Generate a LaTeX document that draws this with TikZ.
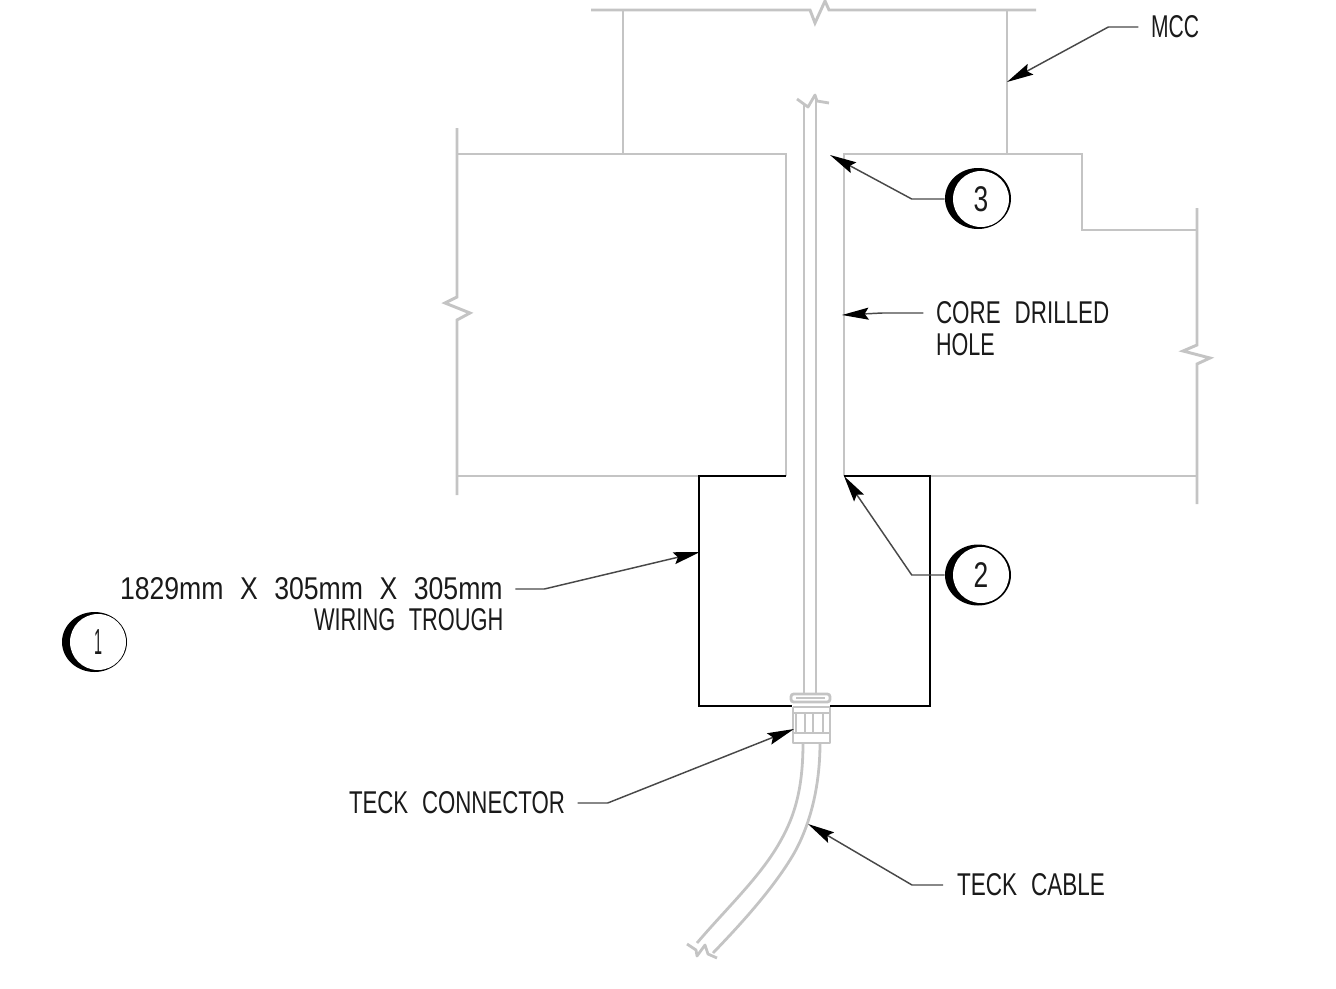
\documentclass[tikz,border=0pt]{standalone}
\usepackage{fontspec}
\setmainfont{Liberation Sans}
\usetikzlibrary{arrows.meta}
\definecolor{wallgray}{HTML}{C4C4C4}
\definecolor{inkk}{HTML}{1A1A1A}
\newcommand{\lbl}[2]{\resizebox{#1pt}{16.5pt}{\spaceskip=0.62em #2}}
\tikzset{
  wall/.style={draw=wallgray,line width=2.2pt,line join=miter},
  thinwall/.style={draw=wallgray,line width=2.1pt,line join=round},
  trough/.style={draw=black,line width=1.4pt},
  leader/.style={draw=inkk!80!white,line width=1.1pt,-{Stealth[length=20pt,width=9pt,inset=3pt,black]}},
  lab/.style={inner sep=0pt,outer sep=0pt,anchor=west,text=inkk},
  bub/.style={circle,fill=white,draw=none,inner sep=0pt,minimum size=42pt,text=inkk}
}
\begin{document}
\begin{tikzpicture}[x=0.75pt,y=-0.75pt]
\useasboundingbox (0,0) rectangle (1336,989);
% top wall of MCC
\draw[wall] (591,10) -- (810,10) -- (815,23) -- (825,1) -- (829,10) -- (1036,10);
\draw[wall] (623,10) -- (623,154);
\draw[wall] (1007,10) -- (1007,154);
% left block
\draw[wall] (457,128) -- (457,297) -- (445,303) -- (470,313) -- (457,320) -- (457,495);
\draw[wall] (457,154) -- (786,154) -- (786,476);
\draw[wall] (457,476) -- (699,476);
% right block
\draw[wall] (844,476) -- (844,154) -- (1082,154) -- (1082,230) -- (1197,230);
\draw[wall] (1197,208) -- (1197,345) -- (1183,351) -- (1210,358) -- (1197,364) -- (1197,504);
\draw[wall] (930,476) -- (1197,476);
% trough
\draw[trough] (786,476) -- (699,476) -- (699,706) -- (792,706);
\draw[trough] (844,476) -- (930,476) -- (930,706) -- (830,706);
% cable in trough
\draw[thinwall] (804,103) -- (804,694);
\draw[thinwall] (816,100) -- (816,694);
\draw[thinwall] (797,99) -- (808,107) -- (815,95) -- (817,101) -- (829,103);
% connector
\draw[thinwall,rounded corners=2pt] (791,694) rectangle (830,702);
\draw[thinwall] (796,698) -- (825,698);
\draw[thinwall] (793,707) -- (830,707);
\draw[thinwall] (793,707) -- (793,743) -- (830,743) -- (830,707);
\draw[thinwall] (796,713) -- (796,733);
\draw[thinwall] (805,713) -- (805,733);
\draw[thinwall] (813,713) -- (813,733);
\draw[thinwall] (823,713) -- (823,733);
\draw[thinwall] (793,713) -- (830,713);
\draw[thinwall] (793,733) -- (830,733);
% cable outside
\draw[thinwall] (803,743) .. controls (803,795) and (792,822) .. (777,847) .. controls (757,880) and (725,910) .. (697,943);
\draw[thinwall] (820,743) .. controls (820,795) and (806,835) .. (790,860) .. controls (770,892) and (740,925) .. (713,953);
\draw[thinwall] (687,944) -- (696,950) -- (697,956) -- (705,945) -- (708,954) -- (717,958);
% labels
\node[lab] (mcc) at (1151,27) {\lbl{36}{MCC}};
\node[lab] (core) at (936,313) {\lbl{130}{CORE DRILLED}};
\node[lab] (hole) at (936,345) {\lbl{44}{HOLE}};
\node[lab] (size) at (120,589) {\lbl{287}{1829mm X 305mm X 305mm}};
\node[lab] (wiring) at (314,620) {\lbl{142}{WIRING TROUGH}};
\node[lab] (tconn) at (349,803) {\lbl{162}{TECK CONNECTOR}};
\node[lab] (tcable) at (957,885) {\lbl{111}{TECK CABLE}};
% balloons
\fill[black] (978,198.5) ellipse [x radius=33,y radius=30.5];
\node[bub] (b3) at (981,199) {\resizebox{11pt}{18.7pt}{3}};
\fill[black] (978,575) ellipse [x radius=33,y radius=30.5];
\node[bub] (b2) at (981,575) {\resizebox{11pt}{18.7pt}{2}};
\fill[black] (94.5,642) ellipse [x radius=32.5,y radius=30];
\node[bub] (b1) at (98,642) {\resizebox{6pt}{18.7pt}{1}};
% leader tips
\coordinate (tipmcc) at (1007,82);
\coordinate (tip3) at (830,155);
\coordinate (tip2) at (844,476);
\coordinate (tipcore) at (842,315);
\coordinate (tipw) at (700,552);
\coordinate (tipconn) at (794,729);
\coordinate (tipcable) at (808,824);
\draw[leader] ([xshift=-9.5pt]mcc.west) -- ++(-30,0) -- (tipmcc);
\draw[leader] (b3.west) ++(-8,0) -- ++(-33,0) -- (tip3);
\draw[leader] (b2.west) ++(-8,0) -- ++(-33,0) -- (tip2);
\draw[leader] ([xshift=-9.5pt]core.west) -- ++(-41,0) -- (tipcore);
\draw[leader] ([xshift=9.5pt]size.east) -- ++(29,0) -- (tipw);
\draw[leader] ([xshift=9.5pt]tconn.east) -- ++(30,0) -- (tipconn);
\draw[leader] ([xshift=-10.5pt]tcable.west) -- ++(-31,0) -- (tipcable);
\end{tikzpicture}
\end{document}
